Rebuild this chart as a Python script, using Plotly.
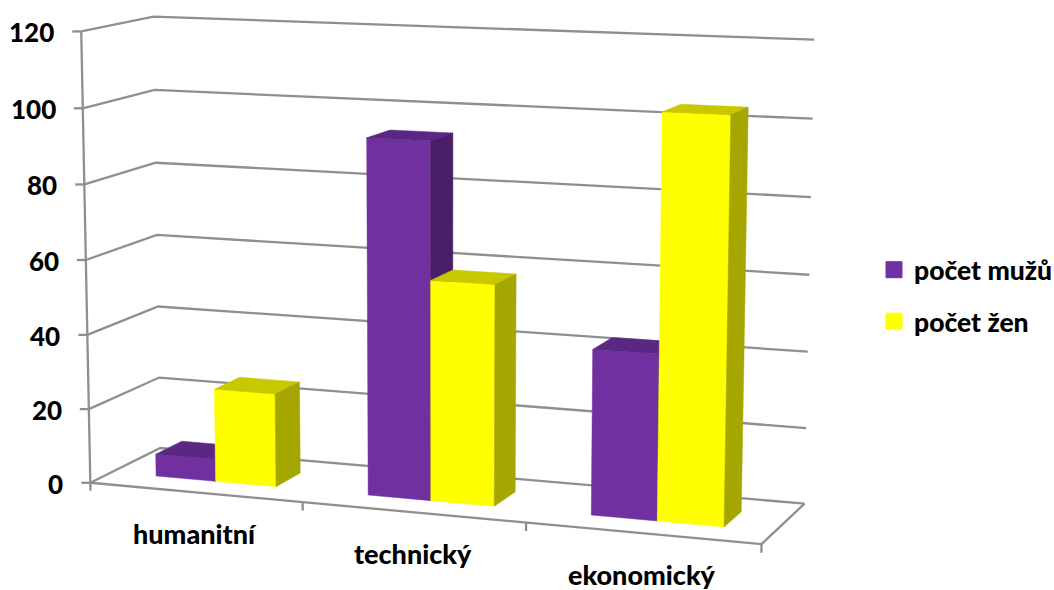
import numpy as np
import plotly.graph_objects as go

# Chart data
categories = ["humanitní", "technický", "ekonomický"]
men = [6, 94, 43]
women = [25, 58, 104]
value_ticks = [0, 20, 40, 60, 80, 100, 120]
series_names = ["počet mužů", "počet žen"]

WIDTH, HEIGHT = 1054, 590
FONT = "Lato"
GRID = "#8F8F8F"
STYLES = [
    {"front": "#7030A0", "top": "#5A2884", "side": "#481F68"},
    {"front": "#FFFF00", "top": "#C8C800", "side": "#A6A600"},
]

# Perspective calibration: frame points (category pos, depth, value) and where they land on the canvas.
FRAME_WORLD = [
    (0, 0, 0), (3, 0, 0), (3, 1, 0), (0, 1, 0), (0, 0, 120), (0, 1, 120), (3, 1, 120),
    (0, 0, 20), (0, 1, 20), (0, 0, 100), (0, 1, 100), (3, 1, 100), (3, 1, 80), (3, 1, 60),
]
FRAME_CANVAS = [
    (90.7, 482.7), (761, 545), (805, 503), (160, 448), (81, 31), (153, 17), (814, 40),
    (89, 409), (159, 378), (83, 108), (155, 90), (813, 119), (811, 197), (809, 274),
]


def solve_camera(world, canvas):
    """Direct linear transform from (pos, depth, value) to canvas pixels."""
    rows = []
    for (a, b, c), (u, v) in zip(world, canvas):
        w = [a, b, c / 120.0, 1.0]
        rows.append(w + [0, 0, 0, 0] + [-u * k for k in w])
        rows.append([0, 0, 0, 0] + w + [-v * k for k in w])
    return np.linalg.svd(np.array(rows))[2][-1].reshape(3, 4)


CAMERA = solve_camera(FRAME_WORLD, FRAME_CANVAS)


def project(pos, depth, value):
    p = CAMERA @ np.array([pos, depth, value / 120.0, 1.0])
    return p[0] / p[2], p[1] / p[2]


def polyline(points):
    pts = [project(*p) for p in points]
    return [p[0] for p in pts], [p[1] for p in pts]


fig = go.Figure()


def add_line(points, width=2.3):
    x, y = polyline(points)
    fig.add_trace(go.Scatter(x=x, y=y, mode="lines", showlegend=False, hoverinfo="skip",
                             line=dict(color=GRID, width=width)))


# Wall gridlines, left wall then back wall
for tick in value_ticks:
    add_line([(0, 0, tick), (0, 1, tick), (3, 1, tick)])

# Floor outline, value axis and its tick stubs
add_line([(0, 0, 0), (3, 0, 0), (3, 1, 0)])
add_line([(0, 0, 0), (0, 0, 120)])
for tick in value_ticks:
    x0, y0 = project(0, 0, tick)
    fig.add_trace(go.Scatter(x=[x0 - 9, x0], y=[y0, y0], mode="lines", showlegend=False,
                             hoverinfo="skip", line=dict(color=GRID, width=2.3)))
for pos in range(4):
    add_line([(pos, 0, 0), (pos, 0, -2.2)])

# Bars: each category left to right, every bar as front, top and side faces
BAR_WIDTH = 1 / 3.5
BAR_MARGIN = 0.75 * BAR_WIDTH
DEPTH_FRONT, DEPTH_BACK = 0.3, 0.68


def add_face(points, color):
    x, y = polyline(points + points[:1])
    fig.add_trace(go.Scatter(x=x, y=y, mode="lines", fill="toself", fillcolor=color,
                             line=dict(color=color, width=0.5), showlegend=False, hoverinfo="skip"))


for i in range(len(categories)):
    for s, series in enumerate((men, women)):
        v = series[i]
        l = i + BAR_MARGIN + s * BAR_WIDTH
        r = l + BAR_WIDTH
        f, b = DEPTH_FRONT, DEPTH_BACK
        st = STYLES[s]
        add_face([(l, f, 0), (r, f, 0), (r, f, v), (l, f, v)], st["front"])
        add_face([(l, f, v), (r, f, v), (r, b, v), (l, b, v)], st["top"])
        add_face([(r, f, 0), (r, b, 0), (r, b, v), (r, f, v)], st["side"])

# Legend entries
for name, st in zip(series_names, STYLES):
    fig.add_trace(go.Scatter(x=[None], y=[None], mode="markers", name=name, legendgroup=name,
                             marker=dict(symbol="square", size=16, color=st["front"],
                                         line=dict(color=st["front"], width=1))))

annotations = []
tick_font = dict(family=FONT, size=26, color="#000000", weight=900)
label_font = dict(family=FONT, size=27, color="#000000", weight=900)
legend_font = dict(family=FONT, size=26.5, color="#000000", weight=900)
for tick in value_ticks:
    x0, y0 = project(0, 0, tick)
    annotations.append(dict(x=x0 - 25, y=y0 + 1, text=str(tick), showarrow=False,
                            xanchor="right", yanchor="middle", font=tick_font))
for i, name in enumerate(categories):
    x0, y0 = project(i + 0.5, 0, 0)
    annotations.append(dict(x=x0, y=y0 + 41, text=name, showarrow=False,
                            xanchor="center", yanchor="middle", font=label_font))

fig.update_layout(
    width=WIDTH, height=HEIGHT, margin=dict(l=0, r=0, t=0, b=0, autoexpand=False),
    paper_bgcolor="white", plot_bgcolor="white",
    xaxis=dict(range=[0, WIDTH], visible=False, fixedrange=True),
    yaxis=dict(range=[HEIGHT, 0], visible=False, fixedrange=True),
    annotations=annotations,
    legend=dict(x=874 / WIDTH, y=1 - 246 / HEIGHT, xanchor="left", yanchor="top",
                font=legend_font, tracegroupgap=14, bgcolor="rgba(0,0,0,0)", borderwidth=0),
    showlegend=True,
)

fig.write_html("out.html")
